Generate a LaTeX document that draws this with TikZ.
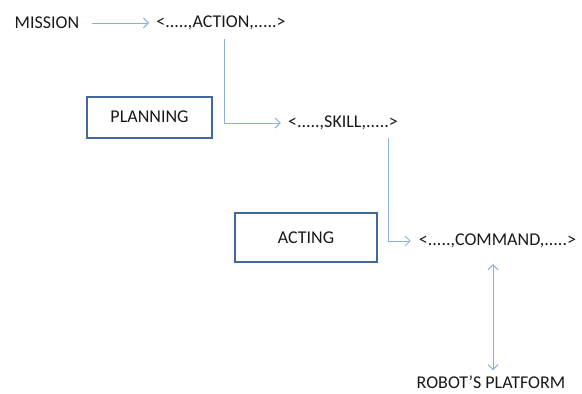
\documentclass[tikz,border=0pt]{standalone}
\usepackage{fontspec}
\setmainfont{Carlito}
\usetikzlibrary{arrows.meta}
\definecolor{linkblue}{RGB}{141,176,222}
\definecolor{boxblue}{RGB}{66,104,158}
\tikzset{
    lbl/.style={inner sep=0pt,text=black!90,font=\fontsize{18}{20}\selectfont},
    layerbox/.style={lbl,draw=boxblue,line width=2pt,inner sep=0pt},
    link/.style={draw=linkblue,line width=1pt,-{Straight Barb[length=5pt,width=10pt]}},
}
\begin{document}
\begin{tikzpicture}[x=1pt,y=-1pt]
    \useasboundingbox (0,0) rectangle (582,394);
    % tuples
    \node[lbl] (mission) at (47,23) {MISSION};
    \node[lbl] (action) at (221,23) {<.....,ACTION,.....>};
    \node[lbl] (skill) at (343,123) {<.....,SKILL,.....>};
    \node[lbl] (command) at (497.5,241) {<.....,COMMAND,.....>};
    \node[lbl] (robot) at (491,382) {ROBOT'S PLATFORM};
    % layers
    \node[layerbox,minimum width=125pt,minimum height=41pt] (planning) at (149.5,117) {PLANNING};
    \node[layerbox,minimum width=142pt,minimum height=49pt] (acting) at (306,237.5) {ACTING};
    % links
    \draw[link,shorten <=13pt,shorten >=7pt] (mission.east) -- (action.west);
    \draw[link,shorten <=9pt,shorten >=7pt] ([xshift=3pt]action.south) |- (skill.west);
    \draw[link,shorten <=8pt,shorten >=8pt] ([xshift=45pt]skill.south) |- (command.west);
    \draw[link,{Straight Barb[length=5pt,width=10pt]}-{Straight Barb[length=5pt,width=10pt]},shorten <=16pt,shorten >=5pt]
        ([xshift=-4.5pt]command.south) -- ([xshift=-4.5pt]command.south |- robot.north);
\end{tikzpicture}
\end{document}
